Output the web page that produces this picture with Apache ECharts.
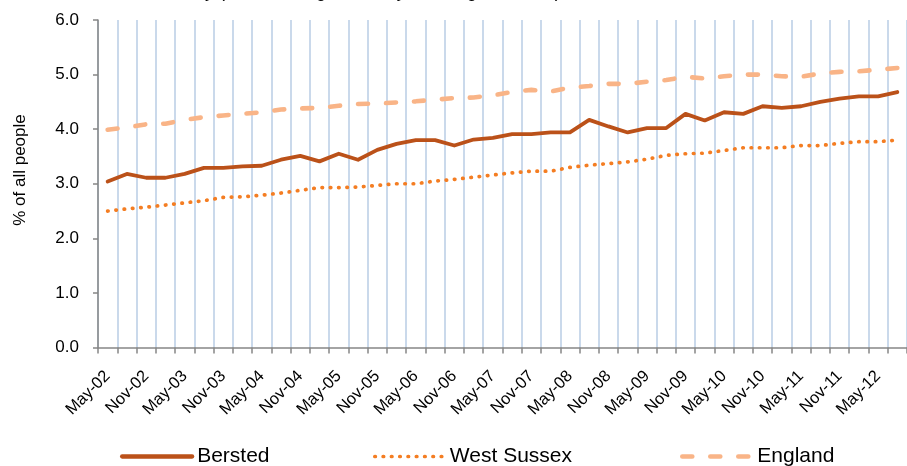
<!DOCTYPE html>
<html>
<head>
<meta charset="utf-8">
<script src="https://cdn.jsdelivr.net/npm/echarts@6/dist/echarts.min.js"></script>
<style>
  html, body { margin: 0; padding: 0; background: #ffffff; }
  #chart { width: 907px; height: 466px; }
</style>
</head>
<body>
<div id="chart"></div>
<script>
// Quarterly snapshots, May 2002 to August 2012
const quarters = [
  'May-02','Aug-02','Nov-02',
  'Feb-03','May-03','Aug-03','Nov-03',
  'Feb-04','May-04','Aug-04','Nov-04',
  'Feb-05','May-05','Aug-05','Nov-05',
  'Feb-06','May-06','Aug-06','Nov-06',
  'Feb-07','May-07','Aug-07','Nov-07',
  'Feb-08','May-08','Aug-08','Nov-08',
  'Feb-09','May-09','Aug-09','Nov-09',
  'Feb-10','May-10','Aug-10','Nov-10',
  'Feb-11','May-11','Aug-11','Nov-11',
  'Feb-12','May-12','Aug-12'
];

// % of all people
const bersted = [
  3.04, 3.18, 3.11,
  3.11, 3.18, 3.29, 3.29,
  3.32, 3.33, 3.44, 3.51,
  3.41, 3.55, 3.44, 3.62,
  3.73, 3.80, 3.80, 3.70,
  3.81, 3.84, 3.91, 3.91,
  3.94, 3.94, 4.17, 4.05,
  3.94, 4.02, 4.02, 4.28,
  4.16, 4.31, 4.28, 4.42,
  4.39, 4.42, 4.50, 4.56,
  4.60, 4.60, 4.68
];

const westSussex = [
  2.50, 2.54, 2.57,
  2.61, 2.65, 2.69, 2.75,
  2.76, 2.79, 2.83, 2.88,
  2.93, 2.93, 2.94, 2.97,
  3.00, 3.00, 3.05, 3.08,
  3.12, 3.16, 3.20, 3.23,
  3.23, 3.30, 3.34, 3.37,
  3.40, 3.45, 3.52, 3.55,
  3.56, 3.61, 3.66, 3.66,
  3.66, 3.70, 3.70, 3.74,
  3.77, 3.77, 3.80
];

const england = [
  3.99, 4.03, 4.09,
  4.10, 4.17, 4.22, 4.25,
  4.28, 4.31, 4.36, 4.38,
  4.39, 4.43, 4.46, 4.47,
  4.49, 4.51, 4.54, 4.57,
  4.58, 4.62, 4.68, 4.72,
  4.69, 4.76, 4.79, 4.83,
  4.83, 4.87, 4.90, 4.96,
  4.93, 4.97, 5.00, 5.00,
  4.97, 4.96, 5.02, 5.05,
  5.06, 5.09, 5.12
];

const yTicks = { min: 0, max: 6, step: 1 };

const FONT = '"Liberation Sans", Arial, sans-serif';
const AXIS_GREY = '#868686';

// Line looks shared by each series and its legend key
const STYLE = {
  'Bersted':     { color: '#bb5119', width: 3.8, type: 'solid',   cap: 'round', join: 'round' },
  'West Sussex': { color: '#f47d22', width: 3.7, type: [0.5, 7.8], cap: 'round', join: 'round' },
  'England':     { color: '#f9b487', width: 4.6, type: [10, 18],  cap: 'round', join: 'round' }
};

const chart = echarts.init(document.getElementById('chart'), null, { renderer: 'canvas' });

const legendAt = (name, left) => ({
  data: [name],
  left: left,
  top: 446,
  padding: 0,
  itemWidth: 70,
  itemHeight: 20,
  itemGap: 0,
  selectedMode: false,
  itemStyle: { color: 'rgba(0,0,0,0)', borderColor: 'rgba(0,0,0,0)', borderWidth: 0, opacity: 0 },
  lineStyle: Object.assign({}, STYLE[name], { width: name === 'Bersted' ? 4.3 : STYLE[name].width }),
  textStyle: { fontSize: 21, fontFamily: FONT, color: '#000000' }
});

const seriesOf = (name, data, z) => ({
  name: name,
  type: 'line',
  data: data,
  symbol: 'none',
  z: z,
  lineStyle: STYLE[name],
  itemStyle: { color: STYLE[name].color }
});

chart.setOption({
  animation: false,
  backgroundColor: '#ffffff',
  textStyle: { fontFamily: FONT, color: '#000000' },
  grid: { left: 98, top: 20, width: 811, height: 327.5, containLabel: false },
  graphic: [
    {
      type: 'text',
      left: 22,
      top: -17,
      silent: true,
      style: {
        text: 'Claimant Count Monthly (claimants aged 16+ by area, age and sex)',
        font: '18px ' + FONT,
        fill: '#000000'
      }
    },
    {
      type: 'text',
      x: 20,
      y: 170,
      rotation: Math.PI / 2,
      silent: true,
      style: {
        text: '% of all people',
        font: '17px ' + FONT,
        fill: '#000000',
        align: 'center',
        verticalAlign: 'middle'
      }
    }
  ],
  legend: [
    legendAt('Bersted', 120),
    legendAt('West Sussex', 373),
    legendAt('England', 680)
  ],
  xAxis: {
    type: 'category',
    data: quarters,
    boundaryGap: true,
    axisLine: { show: true, lineStyle: { color: AXIS_GREY, width: 1.5 } },
    axisTick: { show: true, interval: 0, length: 6, lineStyle: { color: AXIS_GREY, width: 1.5 } },
    axisLabel: {
      interval: 1,
      rotate: 45,
      margin: 26,
      fontSize: 16.5,
      fontFamily: FONT,
      color: '#000000'
    },
    splitLine: {
      show: true,
      interval: 0,
      lineStyle: { color: '#b9cde5', width: 1.5 }
    }
  },
  yAxis: {
    type: 'value',
    min: yTicks.min,
    max: yTicks.max,
    interval: yTicks.step,
    axisLine: { show: true, lineStyle: { color: AXIS_GREY, width: 1.5 } },
    axisTick: { show: true, length: 5, lineStyle: { color: AXIS_GREY, width: 1.5 } },
    axisLabel: {
      margin: 19,
      fontSize: 17,
      fontFamily: FONT,
      color: '#000000',
      formatter: v => v.toFixed(1)
    },
    splitLine: { show: false }
  },
  series: [
    seriesOf('Bersted', bersted, 4),
    seriesOf('West Sussex', westSussex, 3),
    seriesOf('England', england, 2)
  ]
});
</script>
</body>
</html>
